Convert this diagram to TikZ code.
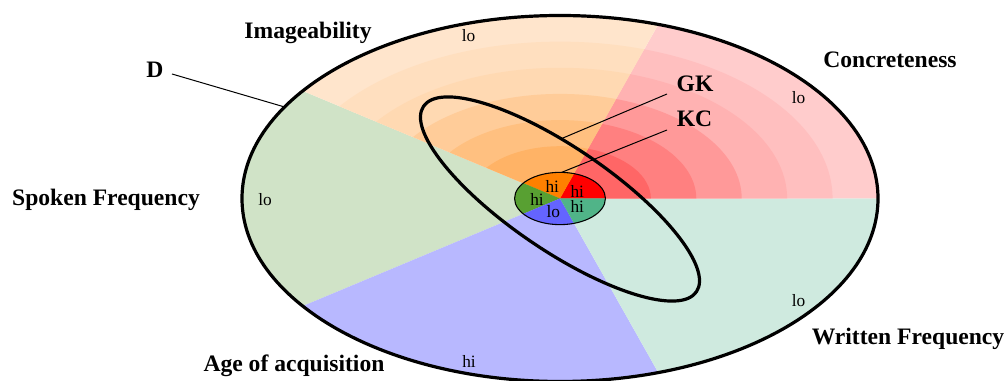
\documentclass[tikz,border=0pt]{standalone}
\usepackage{fontspec}
\setmainfont{Liberation Serif}
\definecolor{lgreen}{RGB}{208,227,199}
\definecolor{sgreen}{RGB}{88,160,50}
\definecolor{lblue}{RGB}{184,184,255}
\definecolor{sblue}{RGB}{100,100,255}
\definecolor{lteal}{RGB}{207,234,223}
\definecolor{steal}{RGB}{80,180,136}
\definecolor{sorange}{RGB}{255,128,0}
\begin{document}
\begin{tikzpicture}[x=0.75pt,y=0.75pt,
  title/.style={font=\fontsize{17.7}{20}\selectfont\bfseries, inner sep=0pt, anchor=base},
  small/.style={font=\fontsize{13}{15}\selectfont, inner sep=0pt, anchor=base},
  leader/.style={line width=0.75pt},
  thickline/.style={line width=2.4pt}]
\useasboundingbox (0,0) rectangle (1008,381);
% outer disc in normalised coordinates
\begin{scope}[shift={(560,182.5)}, xscale=318, yscale=183]
  \fill[lgreen] (0,0) -- (144:1) arc (144:216:1) -- cycle;
  \fill[lblue]  (0,0) -- (216:1) arc (216:288:1) -- cycle;
  \fill[lteal]  (0,0) -- (288:1) arc (288:360:1) -- cycle;
  \foreach \k/\p in {7/20,6/25,5/30,4/40,3/50,2/60,1/70} {
    \fill[red!\p] (0,0) -- (0:\k/7) arc (0:72:\k/7) -- cycle;
    \fill[sorange!\p] (0,0) -- (72:\k/7) arc (72:144:\k/7) -- cycle;
  }
  \draw[thickline] (0,0) circle (1);
  \coordinate (Dend) at (150:1);
\end{scope}
% tilted ellipse
\begin{scope}[shift={(560,182)}, rotate=-34.2]
  \draw[thickline] (0,0) ellipse [x radius=165, y radius=51.5];
  \coordinate (GKend) at (101.5:165 and 51.5);
\end{scope}
% small pie
\begin{scope}[shift={(560,182.5)}, xscale=318, yscale=183]
  \fill[red]     (0,0) -- (0:1/7) arc (0:72:1/7) -- cycle;
  \fill[sorange] (0,0) -- (72:1/7) arc (72:144:1/7) -- cycle;
  \fill[sgreen]  (0,0) -- (144:1/7) arc (144:216:1/7) -- cycle;
  \fill[sblue]   (0,0) -- (216:1/7) arc (216:288:1/7) -- cycle;
  \fill[steal]   (0,0) -- (288:1/7) arc (288:360:1/7) -- cycle;
  \draw[line width=0.8pt] (0,0) circle (1/7);
  \coordinate (KCend) at (88:1/7);
\end{scope}
% pie labels
\node[small] (pOr) at (552.3,188.7) {hi};
\node[small] (pRe) at (577.3,183.7) {hi};
\node[small] (pGr) at (537,175.3) {hi};
\node[small] (pBl) at (553.3,163.7) {lo};
\node[small] (pTe) at (577.3,168.3) {hi};
% sector labels
\node[small] (lImg) at (468.5,339.3) {lo};
\node[small] (lCon) at (798.5,277) {lo};
\node[small] (lSpo) at (265,175.3) {lo};
\node[small] (lAge) at (469,13) {hi};
\node[small] (lWri) at (798.5,74.3) {lo};
% titles
\node[title] (tImg) at (308,342) {Imageability};
\node[title] (tCon) at (890,313) {Concreteness};
\node[title] (tSpo) at (106,175.3) {Spoken Frequency};
\node[title] (tAge) at (294,9.3) {Age of acquisition};
\node[title] (tWri) at (908,36) {Written Frequency};
\node[title] (tD) at (155,303) {D};
\node[title] (tGK) at (695,289.3) {GK};
\node[title] (tKC) at (694.5,254.3) {KC};
% leaders
\coordinate (Dstart) at (172,307);
\coordinate (GKstart) at (667,287);
\coordinate (KCstart) at (667,251);
\draw[leader] (Dstart) -- (Dend);
\draw[leader] (GKstart) -- (GKend);
\draw[leader] (KCstart) -- (KCend);
\end{tikzpicture}
\end{document}
